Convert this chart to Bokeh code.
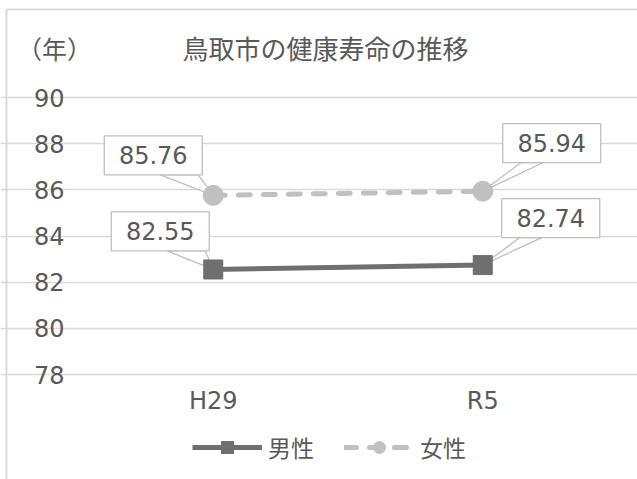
from bokeh.plotting import figure
from bokeh.models import Range1d, Legend, LegendItem, FixedTicker, Label
from bokeh.embed import file_html
from bokeh.resources import INLINE
from bokeh.core.properties import value

# ---- data ----
years = ["H29", "R5"]
male = [82.55, 82.74]
female = [85.76, 85.94]
y_ticks = [78, 80, 82, 84, 86, 88, 90]
title_text = "鳥取市の健康寿命の推移"
unit_text = "（年）"
series_names = ["男性", "女性"]

# ---- layout (page pixels) ----
W, H = 637, 479
PAGE0 = 0                       # canvas origin on the page
PL, PR = 78, 617                # plot area left / right
PT, PB = 97, 374                # y=90 / y=78 lines
ymin, ymax = 78, 90
ncat = len(years)
px_x = (PR - PL) / ncat
px_y = (PB - PT) / (ymax - ymin)
x0 = (PAGE0 - PL) / px_x
x1 = (PAGE0 + W - PL) / px_x
y1 = ymax + (PT - PAGE0) / px_y
y0 = ymax - (PAGE0 + H - PT) / px_y

def dx(px):
    return (px - PL) / px_x

def dy(py):
    return ymax - (py - PT) / px_y

JP = "Noto Sans CJK JP"
NUM = "DejaVu Sans"
TXT = "#595959"
GRID = "#d9d9d9"
MALE_C = "#6f6f6f"
FEMALE_C = "#c0c0c0"
CALLOUT = "#bfbfbf"

p = figure(width=W, height=H, x_range=Range1d(x0, x1), y_range=Range1d(y0, y1),
           output_backend="svg", toolbar_location=None, min_border=0)
p.outline_line_color = None

x_pos = [i + 0.5 for i in range(ncat)]

p.xgrid.grid_line_color = None
p.ygrid.ticker = FixedTicker(ticks=y_ticks)
p.ygrid.grid_line_color = GRID
p.ygrid.grid_line_width = 1.3
p.ygrid.bounds = (0, ncat)

p.yaxis.ticker = FixedTicker(ticks=y_ticks)
p.yaxis.fixed_location = 0
p.xaxis.ticker = FixedTicker(ticks=x_pos)
p.xaxis.major_label_overrides = {x: lab for x, lab in zip(x_pos, years)}
p.xaxis.fixed_location = ymin
for ax in (p.xaxis, p.yaxis):
    ax.axis_line_color = None
    ax.major_tick_line_color = None
    ax.minor_tick_line_color = None
    ax.major_label_text_font = NUM
    ax.major_label_text_font_size = "24px"
    ax.major_label_text_color = TXT
p.yaxis.major_label_standoff = 8
p.xaxis.major_label_standoff = 6

# chart border (top / left)
p.segment(x0=[dx(6), dx(6)], y0=[dy(9), dy(9)], x1=[dx(6), x1], y1=[y0, dy(9)],
          line_color=GRID, line_width=2)

male_line = p.line(x_pos, male, line_color=MALE_C, line_width=5)
female_line = p.line(x_pos, female, line_color=FEMALE_C, line_width=5,
                     line_dash="12 13", line_cap="round")

# ---- callout labels ----
box_w, box_h = 98, 39
offs = {
    "male": [(-53, -38), (68, -47)],
    "female": [(-60, -40), (69, -48)],
}
wx, wy, bx, by, tt = [], [], [], [], []
for key, vals in (("female", female), ("male", male)):
    for i, v in enumerate(vals):
        ox, oy = offs[key][i]
        cx = x_pos[i] + ox / px_x
        cy = v - oy / px_y
        bx.append(cx); by.append(cy); tt.append(f"{v:.2f}")
        bottom = cy - (box_h / 2) / px_y
        if ox < 0:
            b1, b2 = cx + 7 / px_x, cx + 45 / px_x
        else:
            b1, b2 = cx - 31 / px_x, cx - 9 / px_x
        wx.append([b1, x_pos[i], b2])
        wy.append([bottom, v, bottom])

p.patches(wx, wy, fill_color="white", line_color=CALLOUT, line_width=1.3)

male_pts = p.scatter(x_pos, male, marker="square", size=19, fill_color=MALE_C,
                     line_color=MALE_C)
female_pts = p.scatter(x_pos, female, marker="circle", size=20, fill_color=FEMALE_C,
                       line_color=FEMALE_C)

p.rect(bx, by, width=box_w, height=box_h, width_units="screen", height_units="screen",
       fill_color="white", line_color=CALLOUT, line_width=1.3)
p.text(bx, by, text=tt, text_align="center", text_baseline="middle",
       text_font=value(NUM), text_font_size="24px", text_color=TXT)

# ---- title and unit ----
p.add_layout(Label(x=dx(325), y=dy(47), text=title_text, text_align="center",
                   text_baseline="middle", text_font=JP, text_font_size="26px",
                   text_color=TXT))
p.add_layout(Label(x=dx(54), y=dy(47), text=unit_text, text_align="center",
                   text_baseline="middle", text_font=JP, text_font_size="25px",
                   text_color=TXT))

# ---- legend ----
legend = Legend(items=[LegendItem(label=series_names[0], renderers=[male_line, male_pts]),
                       LegendItem(label=series_names[1], renderers=[female_line, female_pts])],
                orientation="horizontal", location=(192 - PAGE0, PAGE0 + H - 464),
                glyph_width=70, glyph_height=30, label_standoff=6, spacing=30,
                padding=0, margin=0, border_line_color=None, background_fill_alpha=0,
                label_text_font=JP, label_text_font_size="23px", label_text_color=TXT)
p.add_layout(legend, "center")

open("out.html", "w").write(file_html(p, INLINE))
